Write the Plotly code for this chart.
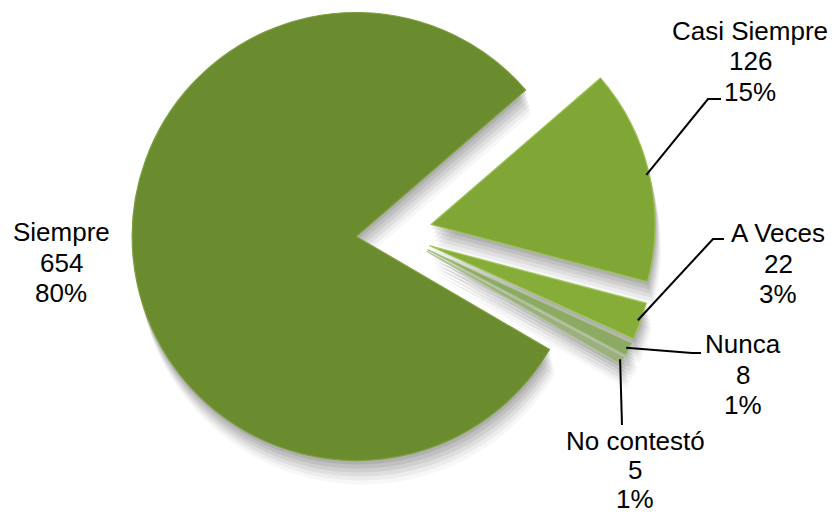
import math
import plotly.graph_objects as go

# ---------------- data ----------------
categories = ["Siempre", "Casi Siempre", "A Veces", "Nunca", "No contestó"]
counts = [654, 126, 22, 8, 5]

# ---------------- styles / layout ----------------
slice_colors = ["#6B8B2F", "#80A736", "#85AD38", "#8CAA64", "#9BB07E"]
edge_colors = ["#7E9F3E", "#9CC256", "#9FC75A", "#A3BE80", "#B0C496"]

W, H = 834, 516
CX, CY = 394, 233      # virtual pie centre (px)
R = 224                # radius (px)
PULL = 38              # explosion distance (px)
ROT = 120.3            # start angle, clockwise from 12 o'clock
FONT = "Arial, 'Liberation Sans', sans-serif"
FS = 26
PITCH = 30.5

label_pos = {   # centre x, centre y of first text line (px), line pitch
    "Siempre": (61, 232, PITCH),
    "Casi Siempre": (750, 31, PITCH),
    "A Veces": (778, 233, PITCH),
    "Nunca": (743, 344, PITCH),
    "No contestó": (635, 441, 29.0),
}
leader_pts = {  # elbow / end points of leader lines (px)
    "Casi Siempre": [(708, 99), (721, 99)],
    "A Veces": [(713, 239), (724, 239)],
    "Nunca": [(692, 353), (701, 353)],
    "No contestó": [(622, 425)],
}

total = sum(counts)
pcts = [round(c / total * 100) for c in counts]
n = len(counts)


def slice_geom(i):
    before = sum(counts[:i])
    mid = ROT + (before + counts[i] / 2) / total * 360
    a = math.radians(mid)
    return CX + PULL * math.sin(a), CY - PULL * math.cos(a), mid


def clamp(v):
    return min(1.0, max(0.0, v))


def domain(cx, cy, r=R):
    return dict(x=[clamp((cx - r) / W), clamp((cx + r) / W)],
                y=[clamp((H - cy - r) / H), clamp((H - cy + r) / H)])


def px(x, y):
    return x / W, 1 - y / H


fig = go.Figure()

# soft drop shadow (layered)
shadow_layers = [(1, 4, 0.10), (2, 8, 0.09), (3, 12, 0.08),
                 (4, 16, 0.07), (5, 20, 0.05), (6, 24, 0.04)]
for dx, dy, alpha in shadow_layers:
    for i in range(n):
        cx, cy, _ = slice_geom(i)
        cols = ["rgba(0,0,0,0)"] * n
        cols[i] = f"rgba(40,40,40,{alpha})"
        fig.add_trace(go.Pie(
            values=counts, labels=categories, sort=False, direction="clockwise",
            rotation=ROT, domain=domain(cx + dx, cy + dy),
            marker=dict(colors=cols, line=dict(width=0)),
            textinfo="none", hoverinfo="skip", showlegend=False,
        ))

# slices
for i in range(n):
    cx, cy, _ = slice_geom(i)
    cols = ["rgba(0,0,0,0)"] * n
    cols[i] = slice_colors[i]
    lw = [0] * n
    lw[i] = 1.2
    lc = ["rgba(0,0,0,0)"] * n
    lc[i] = edge_colors[i]
    fig.add_trace(go.Pie(
        values=counts, labels=categories, sort=False, direction="clockwise",
        rotation=ROT, domain=domain(cx, cy),
        marker=dict(colors=cols, line=dict(width=lw, color=lc)),
        textinfo="none", hoverinfo="label+value+percent", showlegend=False,
    ))

# leader lines
shapes = []
for i, cat in enumerate(categories):
    if cat not in leader_pts:
        continue
    cx, cy, mid = slice_geom(i)
    a = math.radians(mid)
    sx, sy = cx + (R - 3) * math.sin(a), cy - (R - 3) * math.cos(a)
    pts = [(sx, sy)] + leader_pts[cat]
    path = "M " + " L ".join(f"{px(x, y)[0]:.5f},{px(x, y)[1]:.5f}" for x, y in pts)
    shapes.append(dict(type="path", xref="paper", yref="paper", path=path,
                       line=dict(color="black", width=2)))

# labels
annotations = []
for i, cat in enumerate(categories):
    x0, y0, pitch = label_pos[cat]
    for k, t in enumerate([cat, str(counts[i]), f"{pcts[i]}%"]):
        ax, ay = px(x0, y0 + k * pitch)
        annotations.append(dict(x=ax, y=ay, xref="paper", yref="paper", text=t,
                                showarrow=False, xanchor="center", yanchor="middle",
                                font=dict(family=FONT, size=FS, color="black")))

fig.update_layout(
    width=W, height=H, autosize=False,
    margin=dict(l=0, r=0, t=0, b=0, pad=0),
    paper_bgcolor="white", plot_bgcolor="white",
    shapes=shapes, annotations=annotations,
)

fig.write_html("out.html")
